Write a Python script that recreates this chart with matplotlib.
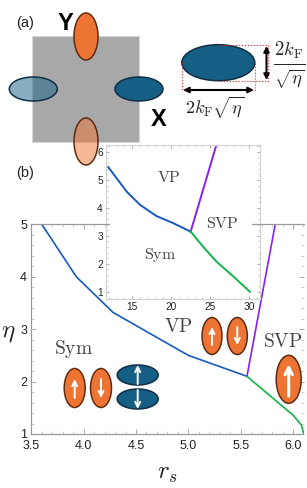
import matplotlib
matplotlib.use('Agg')
import matplotlib.pyplot as plt
from matplotlib.patches import Ellipse, Rectangle

plt.rcParams['font.family'] = ['Liberation Sans', 'DejaVu Sans']
plt.rcParams['mathtext.fontset'] = 'cm'

W, H = 307, 488

# main phase diagram
blue_rs = [3.6, 3.93, 4.28, 5.0, 5.56]
blue_eta = [5.0, 4.0, 3.32, 2.5, 2.1]
purple_rs = [5.56, 5.83]
purple_eta = [2.1, 5.0]
green_rs = [5.56, 5.75, 6.0, 6.08, 6.1]
green_eta = [2.1, 1.78, 1.36, 1.17, 1.02]
main_xticks = [3.5, 4.0, 4.5, 5.0, 5.5, 6.0]
main_yticks = [1, 2, 3, 4, 5]

# inset phase diagram
in_blue_x = [11.93, 13.0, 14.3, 16.0, 18.1, 20.3, 22.5]
in_blue_y = [5.46, 5.06, 4.58, 4.11, 3.71, 3.45, 3.15]
in_purple_x = [22.5, 25.8]
in_purple_y = [3.15, 6.25]
in_green_x = [22.5, 24.1, 25.8, 28.0, 30.1]
in_green_y = [3.15, 2.61, 2.08, 1.54, 1.0]
in_xticks = [15, 20, 25, 30]
in_yticks = [1, 2, 3, 4, 5, 6]

ORANGE = '#ed7433'
BROWN = '#5f2c12'
BLUE = '#155f85'
DARK = '#0e2f44'
GREY = '#a8a8a8'


def px_axes(fig, left, right, top, bottom):
    return fig.add_axes([left / W, 1 - bottom / H, (right - left) / W, (bottom - top) / H])


def style(ax, size, major, minor, pad):
    ax.tick_params(which='major', direction='in', length=major, width=0.7, color='#a8a8a8', labelsize=size, pad=pad, labelcolor='#222222')
    ax.tick_params(which='minor', direction='in', length=minor, width=0.6, color='#c4c4c4')


fig = plt.figure(figsize=(W / 100, H / 100), dpi=100)

ax = px_axes(fig, 31.3, 303.5, 224.3, 434)
ax.plot(blue_rs, blue_eta, color='#1659c4', lw=1.2)
ax.plot(purple_rs, purple_eta, color='#8a1ff0', lw=1.2)
ax.plot(green_rs, green_eta, color='#10b648', lw=1.2)
ax.set_xlim(3.5, 6.1)
ax.set_ylim(1, 5)
ax.set_xticks(main_xticks)
ax.set_xticklabels(['%.1f' % v for v in main_xticks])
ax.set_yticks(main_yticks)
ax.set_xticks([3.5 + 0.1 * i for i in range(27)], minor=True)
ax.set_yticks([1 + 0.2 * i for i in range(21)], minor=True)
style(ax, 9, 3.5, 2, 3)
ax.tick_params(axis='x', which='major', pad=4)
ax.tick_params(which='both', top=True, right=True)
for s in ax.spines.values():
    s.set_color('#9a9a9a')
    s.set_linewidth(0.9)
ax.spines['right'].set_visible(False)
ax.spines['top'].set_visible(False)

inset = px_axes(fig, 105.7, 260, 145, 299)
inset.plot(in_blue_x, in_blue_y, color='#1659c4', lw=1.4)
inset.plot(in_purple_x, in_purple_y, color='#8a1ff0', lw=1.4)
inset.plot(in_green_x, in_green_y, color='#10b648', lw=1.4)
inset.set_xlim(11.6, 31.4)
inset.set_ylim(0.74, 6.25)
inset.set_xticks(in_xticks)
inset.set_yticks(in_yticks)
inset.set_xticks(range(12, 32), minor=True)
inset.set_yticks([1 + 0.2 * i for i in range(27)], minor=True)
style(inset, 7.3, 2.5, 1.5, 2)
inset.tick_params(which='both', top=True, right=True)
for s in inset.spines.values():
    s.set_color('#d4d4d4')
    s.set_linewidth(0.9)

# everything drawn by hand sits on a pixel overlay
over = fig.add_axes([0, 0, 1, 1], facecolor='none')
over.set_xlim(0, W)
over.set_ylim(H, 0)
over.axis('off')

# main frame top, the inset's white box hides the middle of it
over.plot([31.3, 109], [224.3, 224.3], color='#9a9a9a', lw=0.9)
over.plot([252, 303.5], [224.3, 224.3], color='#9a9a9a', lw=0.9)


def oval(x, y, w, h, face, edge, alpha=1.0, lw=1.1):
    over.add_patch(Ellipse((x, y), w, h, facecolor=matplotlib.colors.to_rgba(face, alpha), edgecolor=edge, lw=lw))


def arrow(x0, y0, x1, y1, color='white', lw=1.4, style='->', ms=9):
    over.annotate('', xy=(x1, y1), xytext=(x0, y0),
                  arrowprops=dict(arrowstyle=style, color=color, lw=lw, mutation_scale=ms, shrinkA=0, shrinkB=0))


# panel (a)
over.add_patch(Rectangle((32.3, 35.7), 106.7, 106.6, facecolor=GREY, edgecolor='#d5d5d5', lw=0.8))
oval(86, 36.5, 24, 47, ORANGE, BROWN)
oval(86, 141.5, 24, 47, ORANGE, BROWN, alpha=0.5)
oval(33.3, 89, 48, 24, BLUE, DARK, alpha=0.5)
oval(139, 89, 48, 24, BLUE, DARK)
oval(218.3, 62.7, 73, 36, BLUE, DARK)

red = dict(color='#e8202a', lw=0.8, ls=':')
over.plot([181.7, 181.7, 254.5, 254.5], [62, 90, 90, 62], **red)
over.plot([218, 268, 268, 218], [44.7, 44.7, 80.7, 80.7], **red)
arrow(183, 90, 254, 90, 'black', 1.5, '<|-|>', 8)
arrow(266.5, 46, 266.5, 80, 'black', 1.5, '<|-|>', 8)

over.text(25, 23, '(a)', fontsize=10.5, ha='center', va='center', color='#222222')
over.text(25, 173, '(b)', fontsize=10.5, ha='center', va='center', color='#222222')
over.text(65, 23, 'Y', fontsize=17, fontweight='bold', ha='center', va='center')
over.text(159, 120, 'X', fontsize=17, fontweight='bold', ha='center', va='center')
over.text(215, 108, r'$2k_{\mathrm{F}}\sqrt{\eta}$', fontsize=13, ha='center', va='center', color='#222222')
over.text(289, 50, r'$2k_{\mathrm{F}}$', fontsize=13.5, ha='center', va='center', color='#222222')
over.plot([274, 305], [63.5, 63.5], color='#222222', lw=0.7)
over.text(289, 79, r'$\sqrt{\eta}$', fontsize=13.5, ha='center', va='center', color='#222222')

# inset labels
for x, y, s in [(169, 177, 'VP'), (222, 223, 'SVP'), (160, 255, 'Sym')]:
    over.text(x, y, r'$\mathrm{%s}$' % s, fontsize=11.5, ha='center', va='center', color='#444444')

# main labels
for x, y, s in [(73, 349, 'Sym'), (178, 327, 'VP'), (283, 342, 'SVP')]:
    over.text(x, y, r'$\mathrm{%s}$' % s, fontsize=14, ha='center', va='center', color='#444444')
over.text(167, 473, r'$r_s$', fontsize=18, ha='center', va='center', color='#222222')
over.text(8, 332, r'$\eta$', fontsize=18, ha='center', va='center', color='#222222')

# spin pockets
oval(74.7, 388, 21, 39, ORANGE, BROWN)
arrow(74.7, 398, 74.7, 379)
oval(101, 388, 21, 39, ORANGE, BROWN)
arrow(101, 379, 101, 398)
oval(137.7, 375, 41, 20, BLUE, DARK)
arrow(137.7, 384, 137.7, 365)
oval(137.7, 399, 41, 20, BLUE, DARK)
arrow(137.7, 390, 137.7, 409)
oval(212, 336, 20, 37, ORANGE, BROWN)
arrow(212, 345, 212, 327)
oval(237.3, 336, 20, 37, ORANGE, BROWN)
arrow(237.3, 327, 237.3, 345)
oval(288.7, 379.3, 25, 48, ORANGE, BROWN)
arrow(288.7, 396, 288.7, 364, lw=2.2, ms=13)

fig.savefig('out.png', dpi=100)
